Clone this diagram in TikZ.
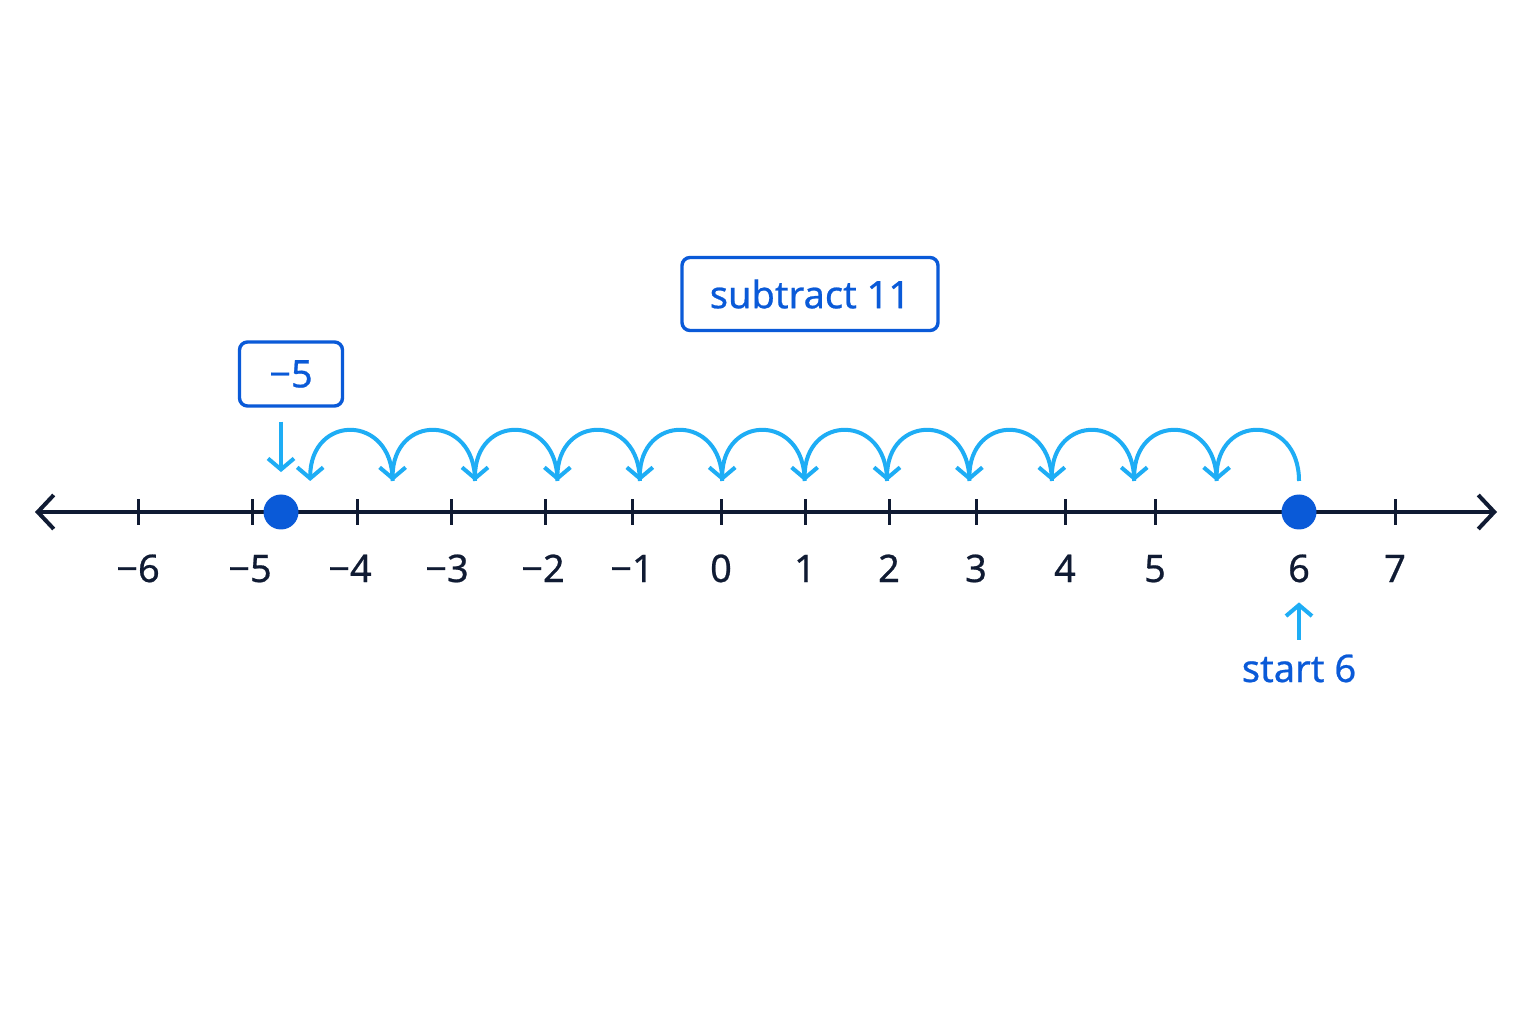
\documentclass[tikz,border=0pt]{standalone}
\usepackage{fontspec}
\setmainfont{Noto Sans}[FakeBold = 0.6]
\usetikzlibrary{arrows.meta}
\definecolor{axisnavy}{HTML}{101B33}
\definecolor{markblue}{HTML}{0A5AD8}
\definecolor{hopblue}{HTML}{1EADF5}

\begin{document}
\begin{tikzpicture}[x = 0.5pt, y = 0.5pt,
  every node/.style = {font = \fontsize{19}{22}\selectfont},
  numlbl/.style = {text = axisnavy, inner sep = 0pt, text height = 14pt, text depth = 0pt},
  bluebox/.style = {draw = markblue, text = markblue, line width = 1.7pt, rounded corners = 4pt, fill = white},
  bigdot/.style = {circle, fill = markblue, minimum size = 17.5pt, inner sep = 0pt},
  hop/.style = {draw = hopblue, line width = 2pt, -{Straight Barb[length = 5.5pt, width = 13pt]}}]
\useasboundingbox (0,0) rectangle (1536,1024);
\fill[white] (0,0) rectangle (1536,1024);

\coordinate (lend) at (35,512);
\coordinate (rend) at (1497,512);
\draw[axisnavy, line width = 2pt, {Straight Barb[length = 8pt, width = 17pt]}-{Straight Barb[length = 8pt, width = 17pt]}] (lend) -- (rend);

\foreach \x/\lx/\v [count = \k] in {138/138/−6, 252/250/−5, 357/350/−4, 451/447/−3, 545/543/−2, 632/632/−1, 721/721/0, 805/805/1, 889/889/2, 976/976/3, 1065/1065/4, 1155/1155/5, 1299/1299/6, 1395/1395/7}{
  \draw[axisnavy, line width = 1.5pt] (\x,499) -- (\x,525);
  \node[numlbl] (n\k) at (\lx,456) {\v};
}

\node[bigdot] (resdot) at (281,512) {};
\node[bigdot] (startdot) at (1299,512) {};

\foreach \i in {0,...,12}
  \coordinate (h\i) at ({1299-82.4*\i},543);
\foreach \i [evaluate = \i as \j using int(\i+1)] in {0,...,11}
  \draw[hop] (h\i) to[out = 90, in = 90, looseness = 2.1] (h\j);

\node[bluebox, minimum width = 51.5pt, minimum height = 32pt] (resbox) at (291,650) {−5};
\draw[hop, shorten <= 7pt, shorten >= 11pt] (resbox.south -| resdot) -- (resdot.north);

\node[bluebox, minimum width = 128pt, minimum height = 36.5pt] (taskbox) at (810,730) {subtract 11};

\node[text = markblue, inner sep = 0pt, text height = 14pt, text depth = 0pt] (startlbl) at (1299,356) {start 6};
\draw[hop, shorten <= 7pt, shorten >= 10pt] (startlbl.north) -- (n13.south);

\end{tikzpicture}
\end{document}
